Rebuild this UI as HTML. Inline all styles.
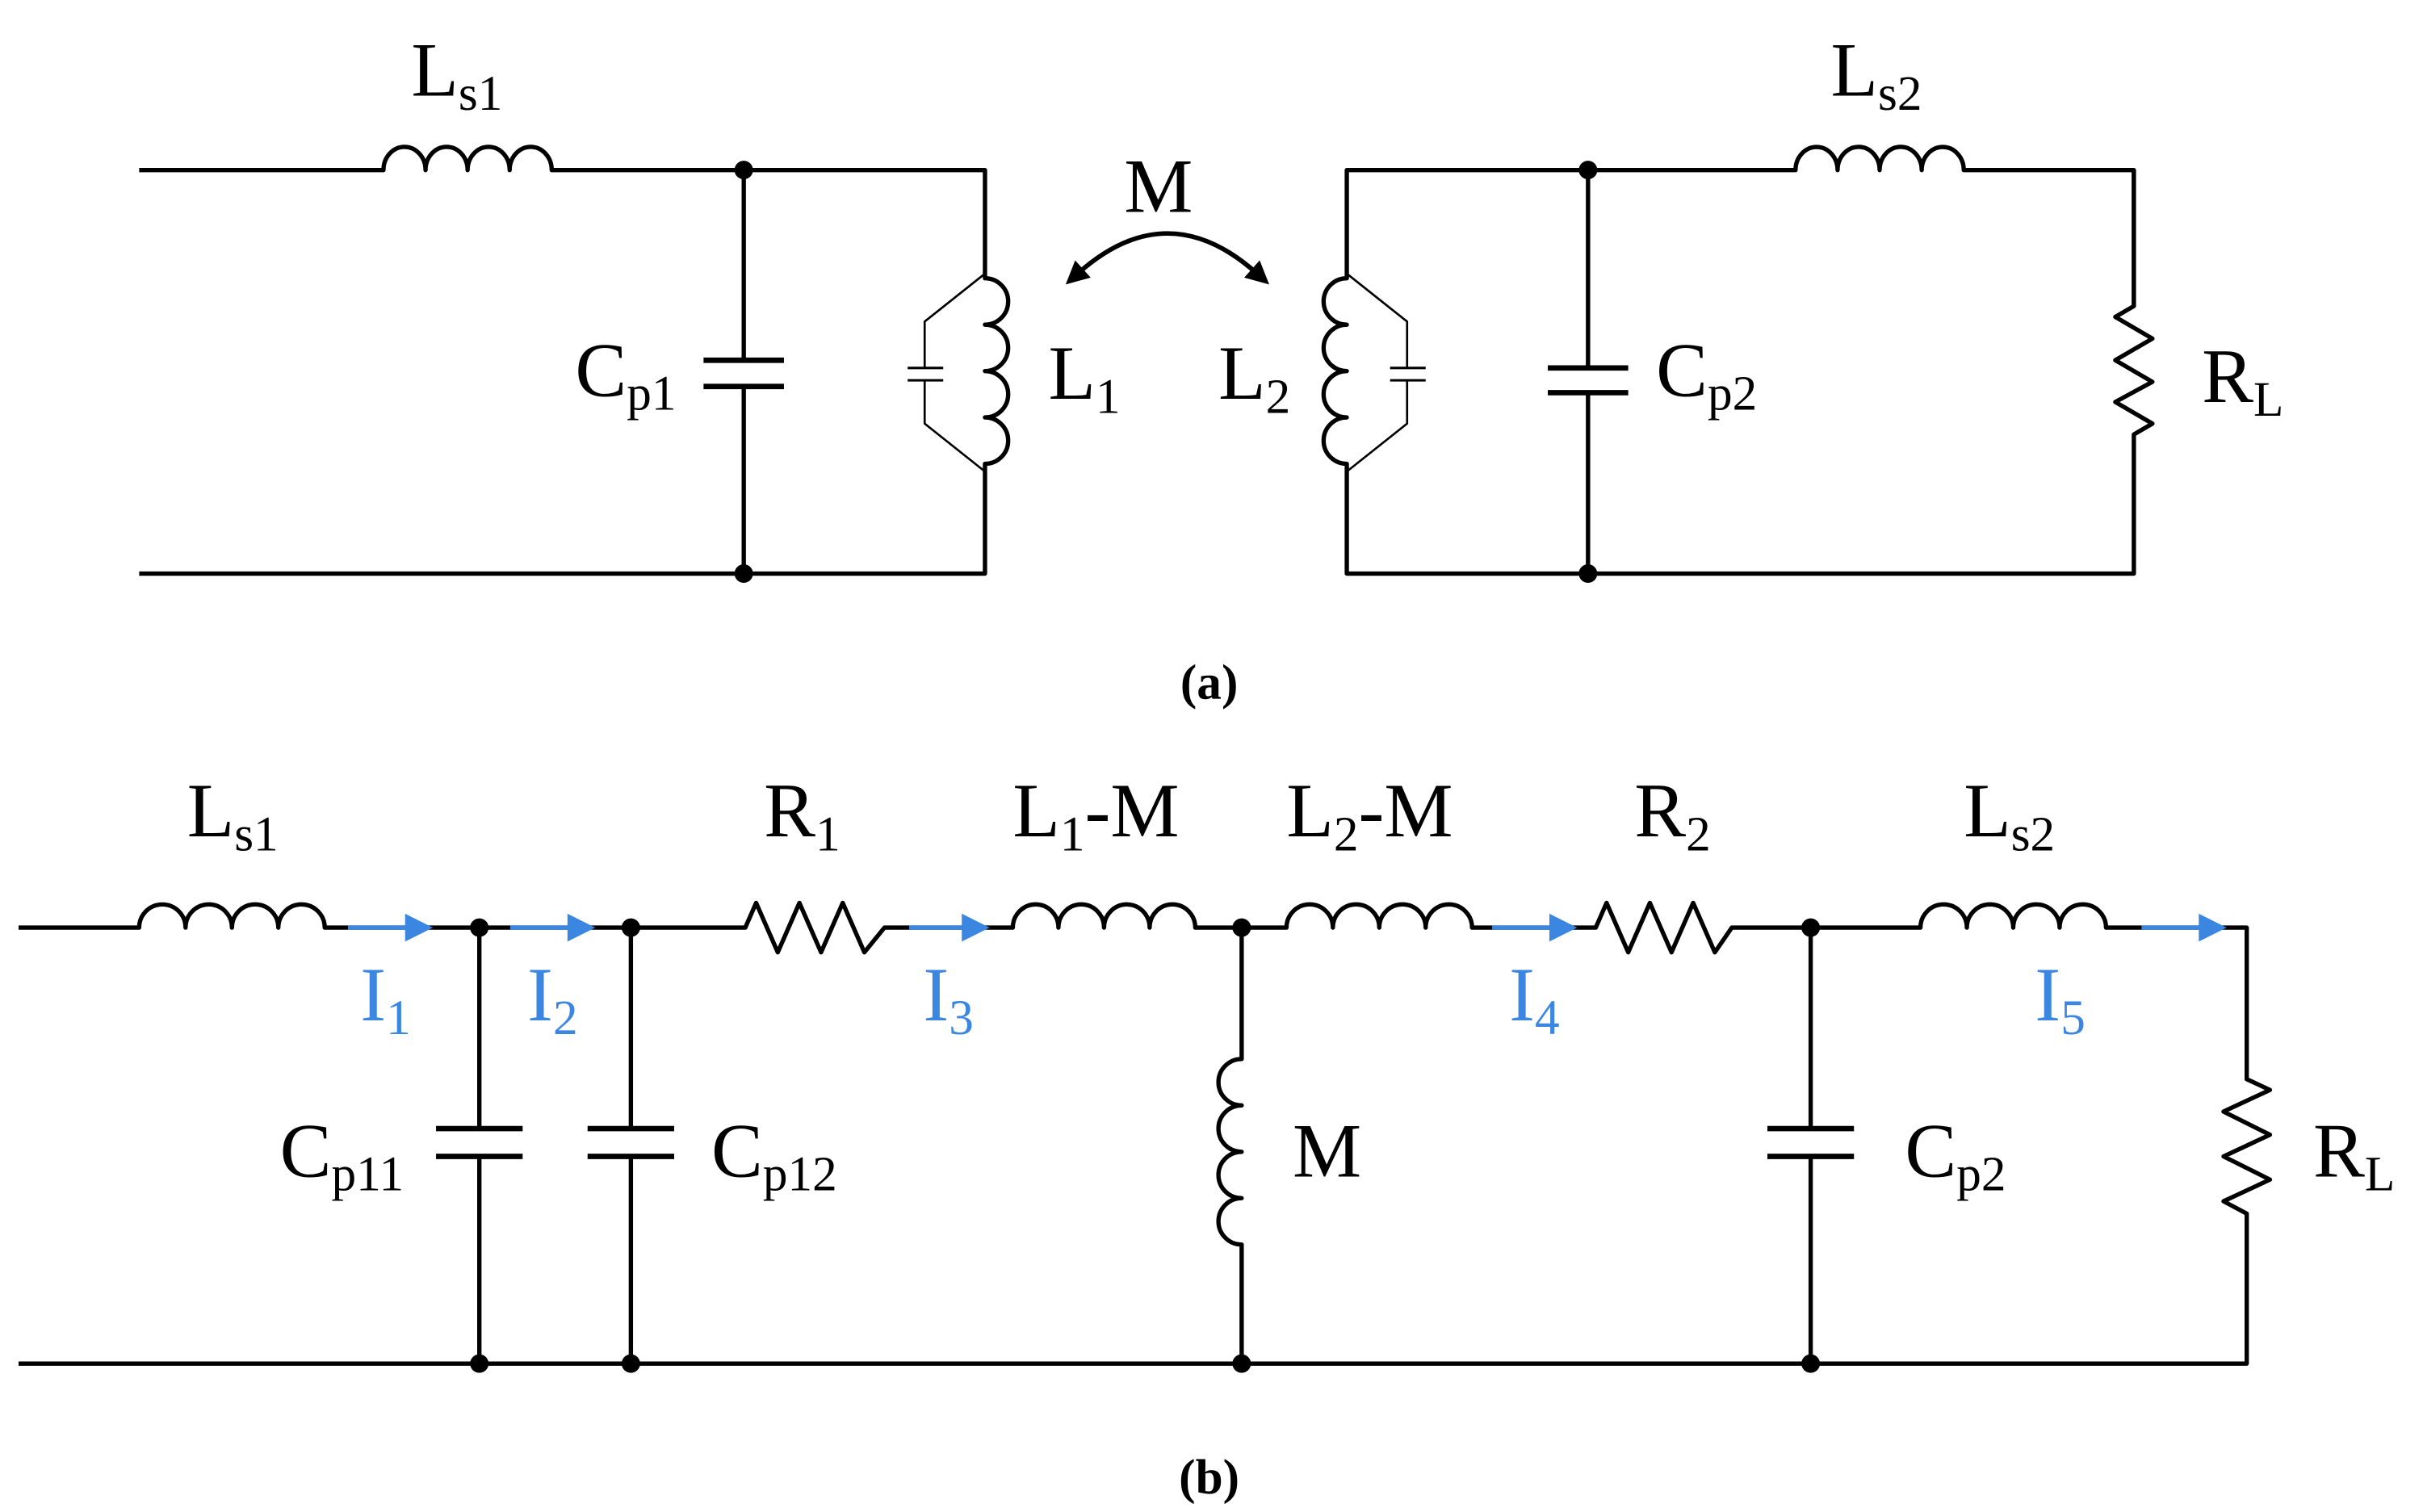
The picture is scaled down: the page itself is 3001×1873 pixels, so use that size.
<!DOCTYPE html>
<html><head><meta charset="utf-8"><style>
html,body{margin:0;padding:0;background:#fff;}
svg{display:block;}
text{font-family:"Liberation Serif",serif;fill:#000;}
</style></head><body>
<svg width="3001" height="1873" viewBox="0 0 1567 978" xmlns="http://www.w3.org/2000/svg">
<defs>
<marker id="ah" viewBox="0 0 10 10" refX="3" refY="5" markerWidth="17" markerHeight="15" orient="auto-start-reverse" markerUnits="userSpaceOnUse">
<path d="M0,0 L10,5 L0,10 z" fill="#000"/></marker>
</defs>
<g fill="none" stroke="#000" stroke-width="2.8" stroke-linejoin="round">
<path d="M90,110 H248 a13.6,15 0 0 1 27.2,0 a13.6,15 0 0 1 27.2,0 a13.6,15 0 0 1 27.2,0 a13.6,15 0 0 1 27.2,0 H637 V180 a15,15 0 0 1 0,30 a15,15 0 0 1 0,30 a15,15 0 0 1 0,30 a15,15 0 0 1 0,30 V371 H90"/>
<path d="M481,110 V233 M481,250 V371"/>
<path d="M455,233 H507 M455,250 H507" stroke-width="3.5"/>
<path d="M637,177 L598,208 V238 M598,246 V274 L637,305" stroke-width="1.4"/>
<path d="M587,238 H610 M587,246 H610" stroke-width="1.6"/>
<path d="M1380,110 H1270 a13.6,15 0 0 0 -27.2,0 a13.6,15 0 0 0 -27.2,0 a13.6,15 0 0 0 -27.2,0 a13.6,15 0 0 0 -27.2,0 H871 V180 a15,15 0 0 0 0,30 a15,15 0 0 0 0,30 a15,15 0 0 0 0,30 a15,15 0 0 0 0,30 V371 H1380 V281 L1392,274 L1368,260 L1392,247 L1368,233 L1392,219 L1368,205 L1380,198 Z"/>
<path d="M1380,110 V198"/>
<path d="M1027,110 V238 M1027,254 V371"/>
<path d="M1001,238 H1053 M1001,254 H1053" stroke-width="3.5"/>
<path d="M871,177 L910,208 V238 M910,246 V274 L871,305" stroke-width="1.4"/>
<path d="M899,238 H922 M899,246 H922" stroke-width="1.6"/>
<path d="M697,177 Q755,125 813,177" stroke-width="3" marker-start="url(#ah)" marker-end="url(#ah)"/>
<path d="M12,600 H90 a15,15 0 0 1 30,0 a15,15 0 0 1 30,0 a15,15 0 0 1 30,0 a15,15 0 0 1 30,0 H482 L489,584 L503,616 L517,584 L531,616 L545,584 L559,616 L572,600 H655 a14.75,15 0 0 1 29.5,0 a14.75,15 0 0 1 29.5,0 a14.75,15 0 0 1 29.5,0 a14.75,15 0 0 1 29.5,0 H832 a15,15 0 0 1 30,0 a15,15 0 0 1 30,0 a15,15 0 0 1 30,0 a15,15 0 0 1 30,0 H1032 L1039,584 L1053,616 L1067,584 L1081,616 L1095,584 L1109,616 L1120,600 H1242 a15,15 0 0 1 30,0 a15,15 0 0 1 30,0 a15,15 0 0 1 30,0 a15,15 0 0 1 30,0 H1453 V698 L1468,705 L1438,719 L1468,734 L1438,748 L1468,763 L1438,777 L1453,785 V882 H12"/>
<path d="M310,600 V730 M310,748 V882 M408,600 V730 M408,748 V882 M1171,600 V730 M1171,748 V882"/>
<path d="M282,730 H338 M282,748 H338 M380,730 H436 M380,748 H436 M1143,730 H1199 M1143,748 H1199" stroke-width="3.5"/>
<path d="M803,600 V685 a15,15 0 0 0 0,30 a15,15 0 0 0 0,30 a15,15 0 0 0 0,30 a15,15 0 0 0 0,30 V882"/>
</g>
<g stroke="#3a86e0" stroke-width="2.8" fill="#3a86e0">
<path d="M225,600 H265 M330,600 H370 M588,600 H625 M965,600 H1005 M1385,600 H1425"/>
<path stroke="none" d="M262,591 L280,600 L262,609 Z M367,591 L385,600 L367,609 Z M622,591 L640,600 L622,609 Z M1002,591 L1020,600 L1002,609 Z M1422,591 L1440,600 L1422,609 Z"/>
</g>
<g fill="#000">
<circle cx="481" cy="110" r="6"/><circle cx="481" cy="371" r="6"/>
<circle cx="1027" cy="110" r="6"/><circle cx="1027" cy="371" r="6"/>
<circle cx="310" cy="600" r="6"/><circle cx="408" cy="600" r="6"/><circle cx="803" cy="600" r="6"/><circle cx="1171" cy="600" r="6"/>
<circle cx="310" cy="882" r="6"/><circle cx="408" cy="882" r="6"/><circle cx="803" cy="882" r="6"/><circle cx="1171" cy="882" r="6"/>
</g>
<g font-size="50">
<text x="266" y="62">L<tspan font-size="32" dy="9">s1</tspan></text>
<text x="372" y="256">C<tspan font-size="32" dy="9">p1</tspan></text>
<text x="678" y="258">L<tspan font-size="32" dy="9">1</tspan></text>
<text x="788" y="258">L<tspan font-size="32" dy="9">2</tspan></text>
<text x="1071" y="256">C<tspan font-size="32" dy="9">p2</tspan></text>
<text x="1424" y="260">R<tspan font-size="32" dy="9">L</tspan></text>
<text x="1184" y="62">L<tspan font-size="32" dy="9">s2</tspan></text>
<text x="727" y="137">M</text>
<text x="121" y="541">L<tspan font-size="32" dy="9">s1</tspan></text>
<text x="494" y="541">R<tspan font-size="32" dy="9">1</tspan></text>
<text x="655" y="541">L<tspan font-size="32" dy="9">1</tspan><tspan dy="-9">-M</tspan></text>
<text x="832" y="541">L<tspan font-size="32" dy="9">2</tspan><tspan dy="-9">-M</tspan></text>
<text x="1057" y="541">R<tspan font-size="32" dy="9">2</tspan></text>
<text x="1270" y="541">L<tspan font-size="32" dy="9">s2</tspan></text>
<text x="181" y="761">C<tspan font-size="32" dy="9">p11</tspan></text>
<text x="460" y="761">C<tspan font-size="32" dy="9">p12</tspan></text>
<text x="836" y="761">M</text>
<text x="1232" y="761">C<tspan font-size="32" dy="9">p2</tspan></text>
<text x="1496" y="761">R<tspan font-size="32" dy="9">L</tspan></text>
</g>
<g font-size="50">
<text x="233" y="660" style="fill:#3a86e0">I<tspan font-size="32" dy="9">1</tspan></text>
<text x="341" y="660" style="fill:#3a86e0">I<tspan font-size="32" dy="9">2</tspan></text>
<text x="597" y="660" style="fill:#3a86e0">I<tspan font-size="32" dy="9">3</tspan></text>
<text x="976" y="660" style="fill:#3a86e0">I<tspan font-size="32" dy="9">4</tspan></text>
<text x="1316" y="660" style="fill:#3a86e0">I<tspan font-size="32" dy="9">5</tspan></text>
</g>
<text x="782" y="452" font-size="32" font-weight="bold" text-anchor="middle">(a)</text>
<text x="782" y="966" font-size="32" font-weight="bold" text-anchor="middle">(b)</text>
</svg>
</body></html>
